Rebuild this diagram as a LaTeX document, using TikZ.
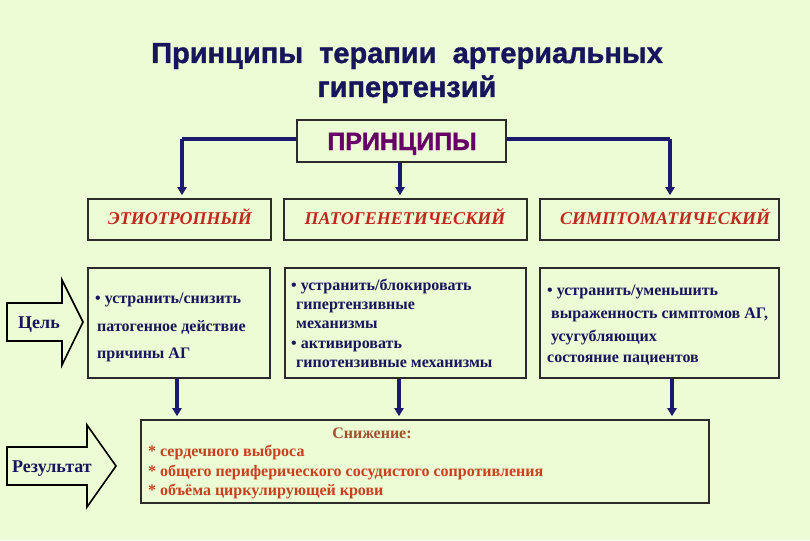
\documentclass[tikz,border=0pt]{standalone}
\usepackage{fontspec}
\setmainfont{Liberation Serif}
\newfontfamily\titlefont{Liberation Sans}[BoldFeatures={FakeBold=1.2}]
\usetikzlibrary{arrows.meta}
\definecolor{bg}{HTML}{ECFCD4}
\definecolor{navy}{HTML}{16165C}
\definecolor{conn}{HTML}{1A1A6E}
\definecolor{purp}{HTML}{660066}
\definecolor{redt}{HTML}{C0281E}
\definecolor{oranget}{HTML}{C8401E}
\definecolor{brownt}{HTML}{A0522D}
\definecolor{edge}{HTML}{2B2B2B}
\tikzset{
  box/.style={draw=edge, line width=1.6pt, fill=bg, inner sep=0pt},
  link/.style={draw=conn, line width=3.4pt, -{Triangle[width=9pt,length=8pt]}, shorten >=3pt},
  plainlink/.style={draw=conn, line width=3.4pt},
  hdr/.style={font=\fontsize{18}{21}\selectfont\bfseries\itshape, text=redt, anchor=base, inner sep=0pt},
  body/.style={font=\fontsize{16}{19}\selectfont\bfseries, text=navy, anchor=base west, inner sep=0pt},
  res/.style={font=\fontsize{16}{19}\selectfont\bfseries, text=oranget, anchor=base west, inner sep=0pt},
  blockarrow/.style={draw=black, line width=1.6pt, fill=bg, line join=miter},
  lbl/.style={font=\fontsize{18}{21}\selectfont\bfseries, text=navy, anchor=base west, inner sep=0pt}
}
\begin{document}
\begin{tikzpicture}[x=1pt,y=-1pt]
\fill[bg] (0,0) rectangle (810,540);
\useasboundingbox (0,0) rectangle (810,540);
% title
\node[font=\titlefont\fontsize{29}{33}\selectfont\bfseries, text=navy, anchor=base, inner sep=0pt] (t1) at (407,63) {Принципы\ \ терапии\ \ артериальных};
\node[font=\titlefont\fontsize{29}{33}\selectfont\bfseries, text=navy, anchor=base, inner sep=0pt] (t2) at (407,97) {гипертензий};
% boxes
\node[box, minimum width=209pt, minimum height=42pt] (pr) at (401.5,141) {};
\node[font=\titlefont\fontsize{25}{30}\selectfont\bfseries, text=purp, anchor=base, inner sep=0pt] (prt) at (402,150) {ПРИНЦИПЫ};
\node[box, minimum width=183pt, minimum height=41pt] (b1) at (179.5,219.5) {};
\node[box, minimum width=243pt, minimum height=41pt] (b2) at (405.5,219.5) {};
\node[box, minimum width=239pt, minimum height=41pt] (b3) at (659.5,219.5) {};
\node[hdr] (h1) at (180,224) {ЭТИОТРОПНЫЙ};
\node[hdr] (h2) at (405,224) {ПАТОГЕНЕТИЧЕСКИЙ};
\node[hdr] (h3) at (665,224) {СИМПТОМАТИЧЕСКИЙ};
\node[box, minimum width=182pt, minimum height=110pt] (b4) at (179,323) {};
\node[box, minimum width=241pt, minimum height=110pt] (b5) at (405.5,323) {};
\node[box, minimum width=239pt, minimum height=110pt] (b6) at (659.5,323) {};
\node[box, minimum width=568pt, minimum height=83pt] (r) at (425,461.5) {};
% box 4 text
\node[body] (l41) at (95,303) {• устранить/снизить};
\node[body] (l42) at (97,331) {патогенное действие};
\node[body] (l43) at (97,358) {причины АГ};
% box 5 text
\node[body] (l51) at (291,290) {• устранить/блокировать};
\node[body] (l52) at (296,309) {гипертензивные};
\node[body] (l53) at (296,328) {механизмы};
\node[body] (l54) at (291,348) {• активировать};
\node[body] (l55) at (296,367) {гипотензивные механизмы};
% box 6 text
\node[body] (l61) at (547,295) {• устранить/уменьшить};
\node[body] (l62) at (551,318) {выраженность симптомов АГ,};
\node[body] (l63) at (551,341) {усугубляющих};
\node[body] (l64) at (547,362) {состояние пациентов};
% result text
\node[font=\fontsize{16}{19}\selectfont\bfseries, text=brownt, anchor=base, inner sep=0pt] (rh) at (372,438) {Снижение:};
\node[res] (r1) at (148,456) {* сердечного выброса};
\node[res] (r2) at (148,476) {* общего периферического сосудистого сопротивления};
\node[res] (r3) at (148,495) {* объёма циркулирующей крови};
% connectors
\coordinate (cl) at (182,139);
\coordinate (cr) at (670,139);
\draw[plainlink] (pr.west |- cl) -- (cl);
\draw[link] (cl) -- (cl |- b1.north);
\draw[plainlink] (pr.east |- cr) -- (cr);
\draw[link] (cr) -- (cr |- b3.north);
\draw[link] (pr.south -| 400,0) -- (400,0 |- b2.north);
\draw[link] (b4.south -| 177,0) -- (177,0 |- r.north);
\draw[link] (b5.south -| 399,0) -- (399,0 |- r.north);
\draw[link] (b6.south -| 672,0) -- (672,0 |- r.north);
% block arrows
\draw[blockarrow] (7,303) -- (62,303) -- (62,280) -- (83,322) -- (62,365) -- (62,341) -- (7,341) -- cycle;
\node[lbl] (goal) at (18,328) {Цель};
\draw[blockarrow] (7,447) -- (87,447) -- (87,425) -- (116,466) -- (87,507) -- (87,485) -- (7,485) -- cycle;
\node[lbl] (result) at (12,472) {Результат};
\end{tikzpicture}
\end{document}
